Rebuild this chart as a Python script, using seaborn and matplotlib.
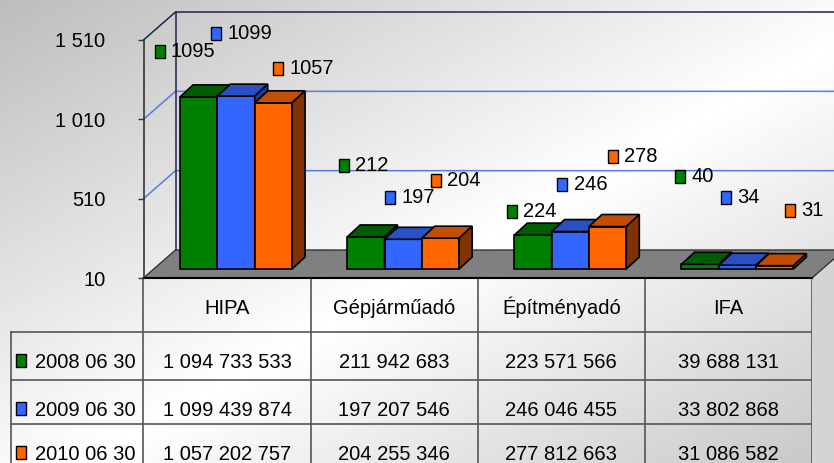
import numpy as np
import pandas as pd
import matplotlib
matplotlib.use('Agg')
import matplotlib.pyplot as plt
import seaborn as sns
from matplotlib.patches import Polygon, Rectangle
from matplotlib.offsetbox import AnnotationBbox, DrawingArea, TextArea, HPacker

# data
categories = ['HIPA', 'Gépjárműadó', 'Építményadó', 'IFA']
series = ['2008 06 30', '2009 06 30', '2010 06 30']
v2008 = [1094733533, 211942683, 223571566, 39688131]
v2009 = [1099439874, 197207546, 246046455, 33802868]
v2010 = [1057202757, 204255346, 277812663, 31086582]
yticks = [10, 510, 1010, 1510]
ytick_labels = ['10', '510', '1 010', '1 510']

# styling
front = ['#008000', '#3366ff', '#ff6600']
top = ['#005c00', '#2a50c4', '#c44e00']
side = ['#004000', '#1c3a99', '#803300']
# label offsets from bar top (px, key centre), one list per series
label_shift = [
    [(-39, 45), (-22, 71), (-21, 24), (-20, 88)],
    [(-20, 63), (-13, 42), (-8, 47), (-11, 68)],
    [(5, 34), (-5, 58), (5, 70), (15, 55)],
]

plt.rcParams['font.family'] = ['Liberation Sans', 'DejaVu Sans']
FS = 14.5

W, H = 834, 463
X0, X1 = 143.5, 812.0      # front floor edge, px
YF, YT = 278.0, 12.0       # floor front line, back wall top, px
PPU = 238.0 / 1500.0       # px per unit (millions)
kx = 4.0 / (X1 - X0)
ky = 1.0 / PPU
DX, DY = 32, 28            # floor depth, px
BX, BY = 9, 9              # bar shift into the floor
TX, TY = 13, 12            # bar depth

fig = plt.figure(figsize=(W / 100, H / 100), dpi=100)

# background gradient
bg = fig.add_axes([0, 0, 1, 1], zorder=-10)
gx, gy = np.meshgrid(np.linspace(0, 1, 300), np.linspace(0, 1, 200))
t = 0.5 * gx + 0.5 * gy
shade = np.where(t < 0.55, 0.74 + 0.26 * t / 0.55, 1.0 - 0.22 * (t - 0.55) / 0.45)
bg.imshow(shade, cmap='gray', vmin=0, vmax=1, aspect='auto', extent=(0, 1, 1, 0))
bg.set_xlim(0, 1)
bg.set_ylim(1, 0)
bg.axis('off')

# table
tab = fig.add_axes([0, 0, 1, 1], zorder=0)
tab.set_xlim(0, W)
tab.set_ylim(H, 0)
tab.axis('off')
colw = (X1 - X0) / 4
rows = [278, 332, 380, 424]
line_kw = dict(color='#555555', lw=1.2)
for i in range(5):
    tab.plot([X0 + i * colw] * 2, [YF, H + 5], **line_kw)
tab.plot([11, 11], [332, H + 5], **line_kw)
for r in rows[1:]:
    tab.plot([11, X1], [r, r], **line_kw)
for i, c in enumerate(categories):
    tab.text(X0 + (i + 0.5) * colw, rows[0] + 36, c, ha='center', va='baseline', fontsize=FS)
for s, (name, vals) in enumerate(zip(series, [v2008, v2009, v2010])):
    rt = rows[s + 1]
    tab.add_patch(Rectangle((16, rt + 22), 10, 13, fc=front[s], ec='black', lw=1))
    tab.text(35, rt + 36, name, ha='left', va='baseline', fontsize=FS)
    for i, v in enumerate(vals):
        txt = f'{v:,}'.replace(',', ' ')
        tab.text(X0 + (i + 0.5) * colw, rt + 36, txt, ha='center', va='baseline', fontsize=FS)

# chart
ax = fig.add_axes([X0 / W, 1 - YF / H, (X1 - X0) / W, (YF - YT) / H], zorder=1)
ax.patch.set_alpha(0)

df = pd.DataFrame({
    'kategoria': categories * 3,
    'idoszak': np.repeat(series, 4),
    'ertek': np.array(v2008 + v2009 + v2010) / 1e6,
})
sns.barplot(data=df, x='kategoria', y='ertek', hue='idoszak', order=categories,
            hue_order=series, palette=front, width=0.67, saturation=1,
            edgecolor='black', linewidth=1.2, legend=False, ax=ax)

ax.set_xlim(-0.5, 3.5)
ax.set_ylim(10, 10 + (YF - YT) / PPU)

bx = -0.5 + DX * kx
gl = dict(clip_on=False, zorder=1)
# floor and side
ax.add_patch(Polygon([(-0.5, 10), (3.5, 10), (3.5 + DX * kx, 10 + DY * ky), (bx, 10 + DY * ky)],
                     fc='#808080', ec='#333333', lw=1, **gl))
ax.add_patch(Polygon([(3.5, 10), (3.5 + DX * kx, 10 + DY * ky), (3.5 + DX * kx, -1400), (3.5, -1400)],
                     fc='#d4d4d4', ec='none', clip_on=False, zorder=0.5))
ax.plot([-0.5, 3.5], [10, 10], color='black', lw=1.5, clip_on=False, zorder=2)
# back wall
for v in yticks[1:3]:
    ax.plot([-0.5, bx, 4.2], [v, v + DY * ky, v + DY * ky], color='#5a78e8', lw=1.1, **gl)
ax.plot([-0.5, bx, 4.2], [1510, 1510 + DY * ky, 1510 + DY * ky], color='#1a2550', lw=1.1, **gl)
ax.plot([bx, bx], [10 + DY * ky, 1510 + DY * ky], color='#1a2550', lw=1.1, **gl)

# 3d bars
for s, cont in enumerate(ax.containers):
    for c, p in enumerate(cont.patches):
        val = p.get_height()
        x = p.get_x() + BX * kx
        w = p.get_width()
        y0 = 10 + BY * ky
        y1 = y0 + val - 10
        p.set_x(x)
        p.set_y(y0)
        p.set_height(val - 10)
        z = 3 + c + s * 0.1
        p.set_zorder(z)
        ax.add_patch(Polygon([(x, y1), (x + w, y1), (x + w + TX * kx, y1 + TY * ky), (x + TX * kx, y1 + TY * ky)],
                             fc=top[s], ec='black', lw=1.2, zorder=z + 0.01))
        ax.add_patch(Polygon([(x + w, y0), (x + w + TX * kx, y0 + TY * ky), (x + w + TX * kx, y1 + TY * ky), (x + w, y1)],
                             fc=side[s], ec='black', lw=1.2, zorder=z + 0.02))
        dx, dy = label_shift[s][c]
        da = DrawingArea(7.2, 9.4, 0, 0)
        da.add_artist(Rectangle((0, 0), 7.2, 9.4, fc=front[s], ec='black', lw=1))
        ta = TextArea(f'{val:.0f}', textprops=dict(fontsize=FS))
        pack = HPacker(children=[da, ta], sep=4.5, pad=0, align='center')
        ab = AnnotationBbox(pack, (x + w / 2, y1), xybox=((dx - 5) * 0.72, dy * 0.72),
                            boxcoords='offset points', box_alignment=(0, 0.5),
                            frameon=False, annotation_clip=False, zorder=20)
        ax.add_artist(ab)

ax.set_yticks(yticks, ytick_labels)
ax.set_xticks([])
ax.set_xlabel('')
ax.set_ylabel('')
ax.tick_params(axis='y', direction='out', length=4, width=1, color='#333333',
               labelsize=FS, pad=(X0 - 107 - 4) * 0.72)
for sp in ['top', 'right', 'bottom']:
    ax.spines[sp].set_visible(False)
ax.spines['left'].set_bounds(10, 1510)
ax.spines['left'].set_color('#333333')
ax.spines['left'].set_linewidth(1.2)

fig.savefig('out.png', dpi=100)
